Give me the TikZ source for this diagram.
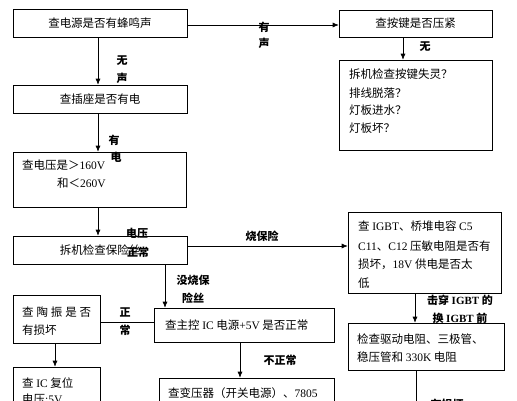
\documentclass[tikz,border=0pt]{standalone}
\usepackage{fontspec}
\setmainfont{Noto Sans CJK SC}
\newfontfamily\en{Liberation Serif}
\usetikzlibrary{arrows.meta}
\tikzset{
	box/.style   = {draw, rectangle, line width=0.6pt, inner sep=0pt},
	ctxt/.style  = {inner sep=0pt, font=\fontsize{11.5}{14}\selectfont},
	txt/.style   = {anchor=west, inner sep=0pt, font=\fontsize{11.5}{14}\selectfont},
	lbl/.style   = {inner sep=0pt, font=\fontsize{11}{13}\selectfont\bfseries},
	wire/.style  = {line width=0.6pt}
}

\begin{document}
\begin{tikzpicture}[x=1pt, y=-1pt, >={Latex[length=6pt,width=5pt]}]
	\useasboundingbox (0,0) rectangle (517,400);
	\clip (0,0) rectangle (517,400);
	
	% left column
	\node[box, ctxt, minimum width=174pt, minimum height=28pt] (pw) at (100,23) {查电源是否有蜂鸣声};
	\node[box, ctxt, minimum width=174pt, minimum height=28pt] (sk) at (100,99) {查插座是否有电};
	\node[box, minimum width=173pt, minimum height=55pt] (vt) at (99.5,179.5) {};
	\node[txt] (vt1) at (22,165) {查电压是＞{\en 160V}};
	\node[txt] (vt2) at (57,183) {和＜{\en 260V}};
	\node[box, ctxt, minimum width=174pt, minimum height=28pt] (fu) at (100,250) {拆机检查保险丝};
	\node[box, minimum width=87pt, minimum height=48pt] (tz) at (56.5,319) {};
	\node[txt] (tz1) at (22,312) {\makebox[69pt][s]{查\hfil 陶\hfil 振\hfil 是\hfil 否}};
	\node[txt] (tz2) at (22,330) {有损坏};
	\node[box, minimum width=87pt, minimum height=53pt] (ic) at (56.5,393.5) {};
	\node[txt] (ic1) at (22,383) {查 {\en IC} 复位};
	\node[txt] (ic2) at (22,399) {电压{\en :5V}};
	
	% middle
	\node[box, minimum width=180pt, minimum height=34pt] (mc) at (244,325) {};
	\node[txt] (mc1) at (165,325) {查主控 {\en IC} 电源{\en +5V} 是否正常};
	\node[box, minimum width=175pt, minimum height=42pt] (tf) at (246.5,399) {};
	\node[txt] (tf1) at (168,393) {查变压器（开关电源）、{\en 7805}};
	
	% right column
	\node[box, ctxt, minimum width=153pt, minimum height=27pt] (kb) at (415.5,23.5) {查按键是否压紧};
	\node[box, minimum width=153pt, minimum height=90pt] (kd) at (415.5,105) {};
	\node[txt] (kd1) at (349,74) {拆机检查按键失灵？};
	\node[txt] (kd2) at (349,93) {排线脱落？};
	\node[txt] (kd3) at (349,110) {灯板进水？};
	\node[txt] (kd4) at (349,128) {灯板坏？};
	\node[box, minimum width=153pt, minimum height=81pt] (ig) at (424.5,252.5) {};
	\node[txt] (ig1) at (358,226) {查 {\en IGBT}、桥堆电容 {\en C5}};
	\node[txt] (ig2) at (358,246) {{\en C11}、{\en C12} 压敏电阻是否有};
	\node[txt] (ig3) at (358,264) {损坏，{\en 18V} 供电是否太};
	\node[txt] (ig4) at (358,283) {低};
	\node[box, minimum width=156pt, minimum height=47pt] (dr) at (426,346.5) {};
	\node[txt] (dr1) at (357,339) {检查驱动电阻、三极管、};
	\node[txt] (dr2) at (357,357) {稳压管和 {\en 330K} 电阻};
	
	% helper coordinates
	\coordinate (xa) at (98,0);
	\coordinate (xk) at (403,0);
	\coordinate (xf) at (165,0);
	\coordinate (xt) at (55,0);
	\coordinate (xm) at (240,0);
	\coordinate (xd) at (415,0);
	\coordinate (dn) at (416,420);
	
	% connectors
	\draw[wire,->] (pw.south -| xa) -- (sk.north -| xa);
	\draw[wire,->] ([yshift=-2pt]pw.east) -- ([yshift=-2pt]pw.east -| kb.west);
	\draw[wire,->] (kb.south -| xk) -- (kd.north -| xk);
	\draw[wire,->] (sk.south -| xa) -- (vt.north -| xa);
	\draw[wire,->] (vt.south -| xa) -- (fu.north -| xa);
	\draw[wire,->] ([yshift=4pt]fu.east) -- ([yshift=4pt]fu.east -| ig.west);
	\draw[wire,->] (fu.south -| xf) -- (mc.north -| xf);
	\draw[wire] ([yshift=3pt]mc.west) -- ([yshift=3pt]mc.west -| tz.east);
	\draw[wire,->] (tz.south -| xt) -- (ic.north -| xt);
	\draw[wire,->] (mc.south -| xm) -- (tf.north -| xm);
	\draw[wire,->] (ig.south -| xd) -- (dr.north -| xd);
	\draw[wire] (dr.south -| dn) -- (dn);
	
	% labels
	\node[lbl] (l1a) at (122,61) {无};
	\node[lbl] (l1b) at (122,78) {声};
	\node[lbl] (l2a) at (264,27) {有};
	\node[lbl] (l2b) at (264,43) {声};
	\node[lbl] (l3) at (425,47) {无};
	\node[lbl] (l4a) at (114,140) {有};
	\node[lbl] (l4b) at (116,157) {电};
	\node[lbl] (l5a) at (137,233) {电压};
	\node[lbl] (l5b) at (138,252) {正常};
	\node[lbl] (l6) at (262,236) {烧保险};
	\node[lbl] (l7a) at (460,300) {击穿 {\en\bfseries IGBT} 的};
	\node[lbl] (l7b) at (460,318) {换 {\en\bfseries IGBT} 前};
	\node[lbl] (l8a) at (193,280) {没烧保};
	\node[lbl] (l8b) at (193,298) {险丝};
	\node[lbl] (l9a) at (125,312) {正};
	\node[lbl] (l9b) at (125,330) {常};
	\node[lbl] (l10) at (280,360) {不正常};
	\node[lbl] (l11) at (447,404) {有损坏};
\end{tikzpicture}
\end{document}
